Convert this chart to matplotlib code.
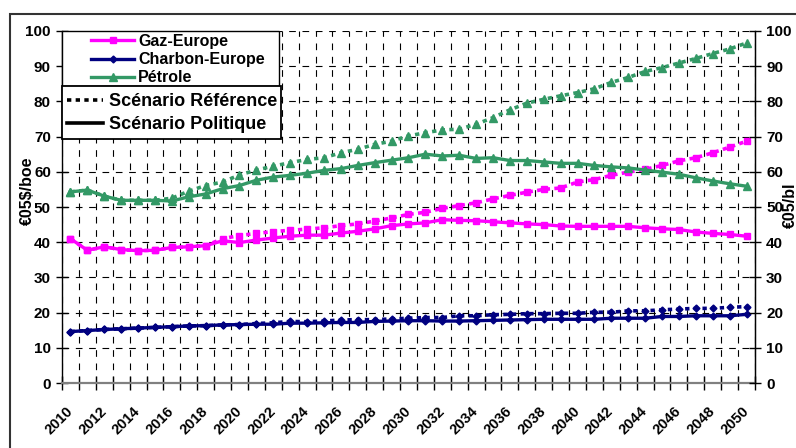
import matplotlib.pyplot as plt
from matplotlib.lines import Line2D
from matplotlib.patches import Rectangle
from matplotlib.ticker import MultipleLocator
from matplotlib.transforms import ScaledTranslation
import numpy as np

plt.rcParams['font.family'] = ['Liberation Sans', 'DejaVu Sans']
plt.rcParams['font.weight'] = 'bold'

years = list(range(2010, 2051))
xlabels = [str(y) for y in range(2010, 2051, 2)]

gaz_pol = [41.0, 37.7, 38.7, 37.9, 37.6, 37.7, 38.5, 38.7, 39.0, 40.4,
           39.9, 40.6, 41.2, 41.7, 42.0, 42.0, 42.6, 43.1, 43.8, 44.7,
           45.2, 45.5, 46.4, 46.2, 46.1, 45.8, 45.5, 45.2, 45.0, 44.6,
           44.5, 44.5, 44.5, 44.5, 44.1, 43.8, 43.6, 42.9, 42.5, 42.2, 41.7]
gaz_ref = [41.0, 37.7, 38.7, 37.9, 37.6, 37.7, 38.5, 38.7, 39.0, 41.0,
           41.9, 42.5, 43.0, 43.4, 43.7, 44.1, 44.7, 45.2, 46.0, 46.9,
           47.9, 48.5, 49.6, 50.4, 51.2, 52.3, 53.3, 54.2, 55.0, 55.4,
           57.1, 57.8, 59.0, 59.9, 60.7, 61.8, 63.1, 64.0, 65.4, 67.0, 68.7]
charbon_pol = [14.6, 14.9, 15.2, 15.4, 15.6, 15.8, 16.0, 16.2, 16.3, 16.5,
               16.6, 16.7, 16.7, 17.0, 17.0, 17.1, 17.2, 17.2, 17.5, 17.6,
               17.7, 17.7, 17.6, 17.6, 17.7, 17.8, 17.9, 18.0, 18.1, 18.1,
               18.1, 18.1, 18.4, 18.4, 18.4, 18.9, 18.9, 19.1, 19.1, 19.1, 19.5]
charbon_ref = [14.6, 14.9, 15.2, 15.4, 15.6, 15.8, 16.0, 16.2, 16.3, 16.5,
               16.6, 16.9, 17.1, 17.5, 17.4, 17.6, 17.9, 18.0, 18.0, 18.2,
               18.4, 18.6, 18.6, 19.1, 19.1, 19.4, 19.5, 19.7, 19.7, 19.8,
               19.8, 20.1, 20.1, 20.5, 20.5, 20.8, 21.0, 21.2, 21.2, 21.5, 21.7]
petrole_pol = [54.3, 54.8, 53.1, 51.9, 51.9, 51.9, 51.7, 52.9, 53.7, 55.2,
               56.1, 57.6, 58.5, 59.0, 59.6, 60.4, 60.9, 61.8, 62.6, 63.3,
               64.0, 65.0, 64.5, 64.7, 63.8, 64.0, 63.2, 63.2, 62.8, 62.4,
               62.4, 61.8, 61.4, 61.1, 60.5, 59.9, 59.3, 58.3, 57.4, 56.6, 55.9]
petrole_ref = [54.3, 54.8, 53.1, 51.9, 51.9, 51.9, 52.5, 54.5, 56.1, 57.1,
               59.1, 60.5, 61.6, 62.6, 63.5, 64.0, 65.4, 66.4, 67.8, 68.7,
               70.2, 71.1, 71.9, 72.1, 73.5, 75.4, 77.6, 79.5, 80.6, 81.6,
               82.5, 83.6, 85.4, 86.8, 88.5, 89.6, 90.9, 92.2, 93.6, 94.9, 96.6]

c_gaz = '#FF00FF'
c_charbon = '#000080'
c_petrole = '#339966'

W, H = 796, 448
fig = plt.figure(figsize=(W / 100, H / 100), dpi=100)
ax = fig.add_axes([62 / W, 1 - 383 / H, (755 - 62) / W, (383 - 31) / H])

dot = (0, (1.2, 1.2))
series = [(gaz_pol, gaz_ref, c_gaz, 's', 4.5),
          (charbon_pol, charbon_ref, c_charbon, 'D', 3.5),
          (petrole_pol, petrole_ref, c_petrole, '^', 5.5)]
for pol, ref, c, m, ms in series:
    ax.plot(years, ref, color=c, lw=2.6, ls=dot, marker=m, ms=ms, zorder=3)
    ax.plot(years, pol, color=c, lw=2.4, marker=m, ms=ms, zorder=4)

ax.set_xlim(2009.5, 2050.5)
ax.set_ylim(0, 100)
ax.set_xticks(range(2010, 2051, 2))
ax.set_xticklabels(xlabels, rotation=45, ha='right', va='center',
                   rotation_mode='anchor', fontsize=10.5, fontweight='bold')
shift = ScaledTranslation(-9 / 100, 0, fig.dpi_scale_trans)
for lab in ax.get_xticklabels():
    lab.set_transform(lab.get_transform() + shift)
ax.xaxis.set_minor_locator(MultipleLocator(1, offset=0.5))
ax.tick_params(axis='x', which='major', length=0, pad=19)
ax.tick_params(axis='x', which='minor', direction='inout', length=10, width=1)
ax.yaxis.set_major_locator(MultipleLocator(10))
ax.tick_params(axis='y', direction='inout', length=9, width=1, labelsize=11)
for lab in ax.get_yticklabels():
    lab.set_fontweight('bold')

ax.grid(True, axis='y', which='major', color='black', lw=0.8, ls=(0, (6, 6)))
ax.grid(True, axis='x', which='minor', color='black', lw=0.8, ls=(0, (6, 6)))
ax.set_axisbelow(True)

ax.spines['top'].set_visible(False)
ax.spines['bottom'].set_color('#808080')
ax.spines['bottom'].set_linewidth(1.6)
ax.spines['left'].set_linewidth(1.0)

ax2 = ax.twinx()
ax2.set_ylim(0, 100)
ax2.yaxis.set_major_locator(MultipleLocator(10))
ax2.tick_params(axis='y', direction='inout', length=9, width=1, labelsize=11)
for lab in ax2.get_yticklabels():
    lab.set_fontweight('bold')
for s in ['top', 'left', 'bottom']:
    ax2.spines[s].set_visible(False)
ax2.spines['right'].set_linewidth(1.0)

fig.text(27 / W, 1 - 191 / H, '€05$/boe', rotation=90, ha='center', va='center',
         fontsize=11.5, fontweight='bold')
fig.text(790 / W, 1 - 205 / H, '€05/bl', rotation=90, ha='center', va='center',
         fontsize=11.5, fontweight='bold')

# outer chart frame
fig.add_artist(Rectangle((10 / W, -0.1), 1.2, 1.1 - 14 / H, transform=fig.transFigure,
                         fill=False, edgecolor='#333333', lw=1.5))

# legend boxes
fig.add_artist(Rectangle((62 / W, 1 - 86 / H), (279 - 62) / W, (86 - 31) / H,
                         transform=fig.transFigure, facecolor='white',
                         edgecolor='black', lw=1.0, zorder=5))
fig.add_artist(Rectangle((62 / W, 1 - 139 / H), (281 - 62) / W, (139 - 86) / H,
                         transform=fig.transFigure, facecolor='white',
                         edgecolor='black', lw=1.3, zorder=5))

h1 = [Line2D([], [], color=c, lw=2.4, marker=m, ms=ms) for _, _, c, m, ms in series]
leg1 = fig.legend(h1, ['Gaz-Europe', 'Charbon-Europe', 'Pétrole'],
                  loc='upper left', bbox_to_anchor=(91 / W, 1 - 34 / H),
                  frameon=False, prop={'weight': 'bold', 'size': 11.5},
                  handlelength=2.7, handletextpad=0.25, labelspacing=0.2,
                  borderpad=0, borderaxespad=0)
leg1.set_zorder(6)
h2 = [Line2D([], [], color='black', lw=2.6, ls=dot),
      Line2D([], [], color='black', lw=2.6)]
leg2 = fig.legend(h2, ['Scénario Référence', 'Scénario Politique'],
                  loc='upper left', bbox_to_anchor=(67 / W, 1 - 93 / H),
                  frameon=False, prop={'weight': 'bold', 'size': 13},
                  handlelength=2.0, handletextpad=0.3, labelspacing=0.35,
                  borderpad=0, borderaxespad=0)
leg2.set_zorder(6)

fig.savefig('out.png', dpi=100)
